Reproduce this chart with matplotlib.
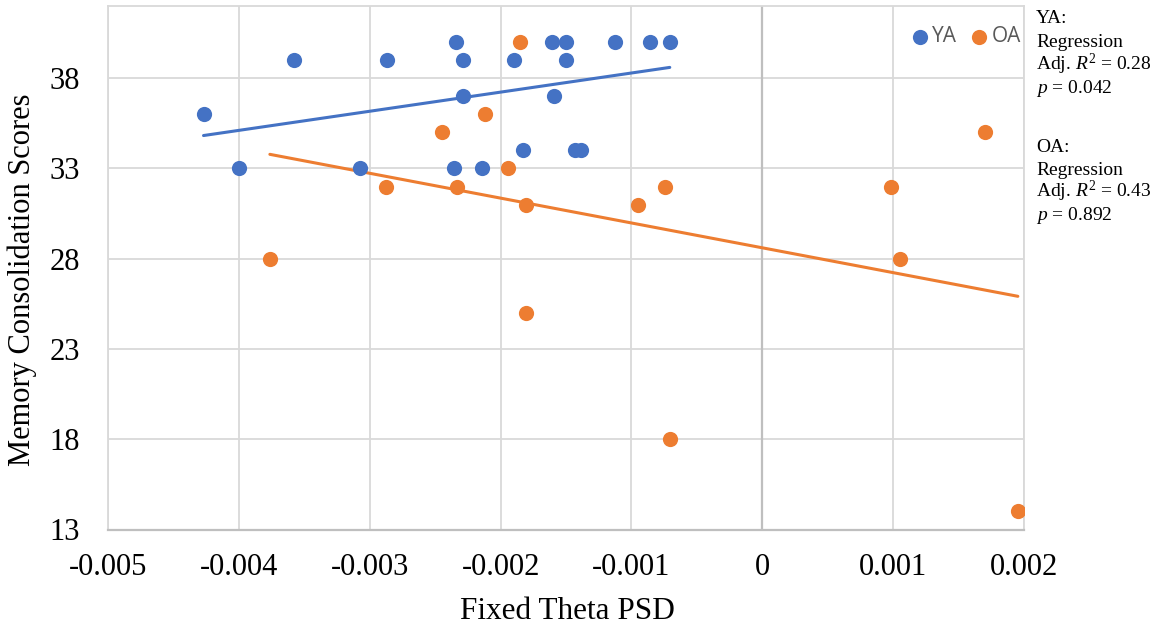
import numpy as np
import matplotlib
matplotlib.use("Agg")
import matplotlib.pyplot as plt

# ---- data ----
ya_x = [-0.00427, -0.00400, -0.00358, -0.003075, -0.00287, -0.002338, -0.002287,
        -0.002287, -0.002356, -0.00214, -0.001895, -0.00183, -0.00161, -0.00150,
        -0.00150, -0.00159, -0.001433, -0.001388, -0.001128, -0.00086, -0.000707]
ya_y = [36, 33, 39, 33, 39, 40, 39, 37, 33, 33, 39, 34, 40, 40, 39, 37, 34, 34, 40, 40, 40]

oa_x = [-0.001849, -0.00212, -0.00245, -0.001946, -0.002876, -0.002336, -0.001806,
        -0.003763, -0.000745, -0.00095, 0.00098, 0.00105, 0.00170, -0.001806,
        -0.000707, 0.001953]
oa_y = [40, 36, 35, 33, 32, 32, 31, 28, 32, 31, 32, 28, 35, 25, 18, 14]

series_names = ["YA", "OA"]
x_ticks = [-0.005, -0.004, -0.003, -0.002, -0.001, 0, 0.001, 0.002]
x_ticklabels = ["-0.005", "-0.004", "-0.003", "-0.002", "-0.001", "0", "0.001", "0.002"]
y_ticks = [13, 18, 23, 28, 33, 38]
stats_text = ["YA:", "Regression", r"Adj. $R^2$ = 0.28", r"$p$ = 0.042",
              "OA:", "Regression", r"Adj. $R^2$ = 0.43", r"$p$ = 0.892"]

BLUE = "#4472C4"
ORANGE = "#ED7D31"

plt.rcParams['mathtext.fontset'] = 'custom'
plt.rcParams['mathtext.rm'] = 'Liberation Serif'
plt.rcParams['mathtext.it'] = 'Liberation Serif:italic'

W, H = 1164, 628
fig = plt.figure(figsize=(W/100, H/100), dpi=100)
L, R, T, B = 108, 1024, 6, 529.5
ax = fig.add_axes([L/W, (H-B)/H, (R-L)/W, (B-T)/H])

ax.set_xlim(-0.005, 0.002)
ax.set_ylim(13, 42)
ax.set_xticks(x_ticks)
ax.set_xticklabels(x_ticklabels)
ax.set_yticks(y_ticks)
ax.tick_params(axis="x", length=0, labelsize=22, pad=17)
ax.tick_params(axis="y", length=0, labelsize=22, pad=20)
for lab in ax.get_xticklabels() + ax.get_yticklabels():
    lab.set_fontfamily("Liberation Serif")

ax.grid(True, color="#D9D9D9", linewidth=1.3, zorder=0)
ax.set_axisbelow(True)
for s in ["top", "right", "left"]:
    ax.spines[s].set_color("#D9D9D9")
    ax.spines[s].set_linewidth(1.3)
ax.spines["bottom"].set_color("#BFBFBF")
ax.spines["bottom"].set_linewidth(1.6)
ax.axvline(0, color="#BFBFBF", linewidth=1.6, zorder=1)

ax.scatter(ya_x, ya_y, s=120, color=BLUE, zorder=3, label=series_names[0], linewidths=0)
ax.scatter(oa_x, oa_y, s=120, color=ORANGE, zorder=3, label=series_names[1], linewidths=0)

for xs, ys, c in [(ya_x, ya_y, BLUE), (oa_x, oa_y, ORANGE)]:
    xs = np.asarray(xs); ys = np.asarray(ys)
    m, b = np.polyfit(xs, ys, 1)
    xx = np.array([xs.min(), xs.max()])
    ax.plot(xx, m*xx + b, color=c, linewidth=2.2, solid_capstyle="round", zorder=2)

leg = ax.legend(loc="center right",
                bbox_to_anchor=((1021-L)/(R-L), (B-36.7)/(B-T)),
                ncol=2, frameon=False, scatterpoints=1,
                handlelength=0.9, handletextpad=0.15, columnspacing=0.6,
                borderaxespad=0, borderpad=0,
                prop={"family": "Open Sans", "size": 15})
for t in leg.get_texts():
    t.set_color("#595959")

ax.set_xlabel("Fixed Theta PSD", fontfamily="Liberation Serif", fontsize=22.5)
ax.xaxis.label.set_va("baseline")
ax.xaxis.set_label_coords((567-L)/(R-L), (B-619)/(B-T))
ax.set_ylabel("Memory Consolidation Scores", fontfamily="Liberation Serif", fontsize=22)
ax.yaxis.label.set_va("center")
ax.yaxis.set_label_coords((22-L)/(R-L), (B-280)/(B-T))

baselines = [23.3, 46.7, 70, 93, 151.7, 175, 197, 220]
for t, yp in zip(stats_text, baselines):
    fig.text(1036/W, 1 - yp/H, t, fontfamily="Liberation Serif", fontsize=14,
             va="baseline", ha="left", color="black")

fig.savefig("out.png", dpi=100)
